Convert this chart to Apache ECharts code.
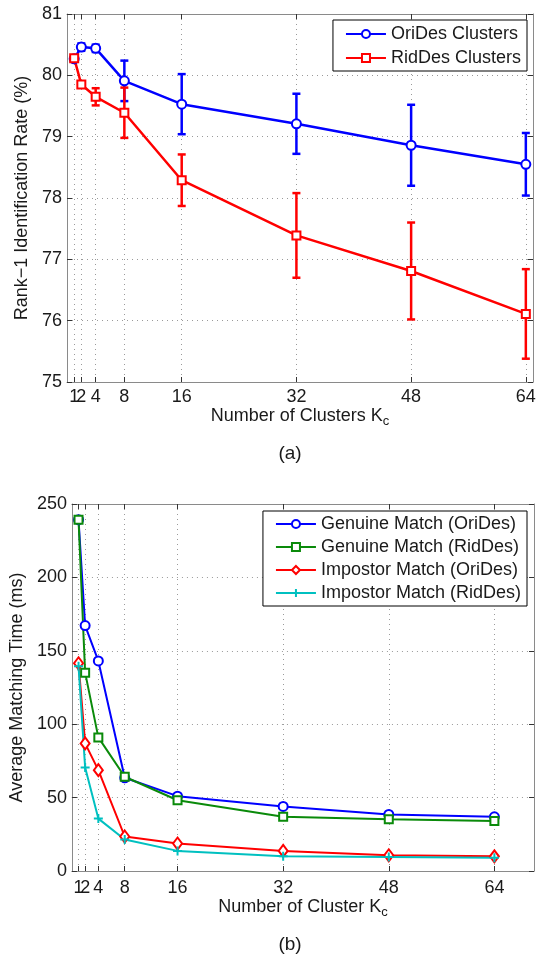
<!DOCTYPE html>
<html><head><meta charset="utf-8">
<script src="https://cdn.jsdelivr.net/npm/echarts@6/dist/echarts.min.js"></script>
<style>html,body{margin:0;padding:0;background:#fff}#c{width:550px;height:961px}</style>
</head><body><div id="c"></div>
<script>
const kValues = [1, 2, 4, 8, 16, 32, 48, 64];
const rateTicks = [75, 76, 77, 78, 79, 80, 81];
const timeTicks = [0, 50, 100, 150, 200, 250];

const oriRate = [80.27, 80.46, 80.44, 79.91, 79.53, 79.21, 78.86, 78.55];
const oriErr  = [0.03, 0.06, 0.06, 0.33, 0.49, 0.49, 0.66, 0.51];
const ridRate = [80.28, 79.85, 79.65, 79.39, 78.29, 77.39, 76.81, 76.11];
const ridErr  = [0.03, 0.04, 0.14, 0.41, 0.42, 0.69, 0.79, 0.73];

const genOri = [239.3, 167.2, 143.1, 63.5, 51.0, 44.0, 38.5, 36.9];
const genRid = [239.3, 135.1, 91.0, 64.2, 48.2, 36.9, 35.3, 34.1];
const impOri = [141.5, 86.9, 68.7, 23.5, 18.7, 13.7, 10.7, 10.0];
const impRid = [139.5, 70.5, 35.7, 21.4, 13.7, 10.0, 9.6, 9.1];

const FONT = "'Liberation Sans', Arial, sans-serif";
const TXT = '#1a1a1a';
const AXC = '#8a8a8a';

function pairs(xs, ys) { return xs.map((x, i) => [x, ys[i]]); }
function errData(xs, ys, es) { return xs.map((x, i) => [x, ys[i] - es[i], ys[i] + es[i]]); }

function errSeries(name, data, color) {
  return {
    type: 'custom', name: name + ' err', xAxisIndex: 0, yAxisIndex: 0,
    data: data, silent: true, z: 2,
    renderItem: function (params, api) {
      const x = api.value(0);
      const lo = api.coord([x, api.value(1)]);
      const hi = api.coord([x, api.value(2)]);
      const w = 4;
      const st = { stroke: color, lineWidth: 2.5 };
      return { type: 'group', children: [
        { type: 'line', shape: { x1: lo[0], y1: lo[1], x2: hi[0], y2: hi[1] }, style: st },
        { type: 'line', shape: { x1: lo[0] - w, y1: lo[1], x2: lo[0] + w, y2: lo[1] }, style: st },
        { type: 'line', shape: { x1: hi[0] - w, y1: hi[1], x2: hi[0] + w, y2: hi[1] }, style: st }
      ]};
    }
  };
}

// label sets: the first K label overlaps its neighbour, so it is drawn by its own overlay axis
const kFirst = kValues.slice(0, 1);
const kRest = kValues.slice(1);

function xAxes(grid, max, name, nameGap, labelMargin) {
  const common = { type: 'value', gridIndex: grid, min: 0, max: max };
  const lbl = { show: true, margin: labelMargin, fontFamily: FONT, fontSize: 18, color: TXT,
    hideOverlap: false, showMinLabel: true, showMaxLabel: true };
  return [
    Object.assign({}, common, {
      position: 'bottom',
      name: name, nameLocation: 'middle', nameGap: nameGap,
      nameTextStyle: { fontFamily: FONT, fontSize: 18, color: TXT,
        rich: { sub: { fontFamily: FONT, fontSize: 13, color: TXT, padding: [12, 0, 0, 0] } } },
      axisLine: { show: true, onZero: false, lineStyle: { color: AXC, width: 1 } },
      axisTick: { show: true, inside: true, length: 5, customValues: kValues, lineStyle: { color: '#333' } },
      axisLabel: Object.assign({}, lbl, { customValues: kRest }),
      splitLine: { show: true, lineStyle: { color: '#9a9a9a', type: [1, 4], width: 1 } }
    }),
    Object.assign({}, common, {
      position: 'top',
      axisLine: { show: true, onZero: false, lineStyle: { color: AXC, width: 1 } },
      axisTick: { show: true, inside: true, length: 5, customValues: kValues, lineStyle: { color: '#333' } },
      axisLabel: { show: false },
      splitLine: { show: false }
    }),
    Object.assign({}, common, {
      position: 'bottom',
      axisLine: { show: false, onZero: false },
      axisTick: { show: false, customValues: kFirst },
      axisLabel: Object.assign({}, lbl, { customValues: kFirst }),
      splitLine: { show: false }
    })
  ];
}

function yAxes(grid, min, max, interval, name, nameGap) {
  const common = { type: 'value', gridIndex: grid, min: min, max: max, interval: interval };
  return [
    Object.assign({}, common, {
      position: 'left',
      name: name, nameLocation: 'middle', nameGap: nameGap,
      nameTextStyle: { fontFamily: FONT, fontSize: 18, color: TXT },
      axisLine: { show: true, onZero: false, lineStyle: { color: AXC, width: 1 } },
      axisTick: { show: true, inside: true, length: 5, lineStyle: { color: '#333' } },
      axisLabel: { show: true, margin: 5, fontFamily: FONT, fontSize: 18, color: TXT },
      splitLine: { show: true, lineStyle: { color: '#9a9a9a', type: [1, 4], width: 1 } }
    }),
    Object.assign({}, common, {
      position: 'right',
      axisLine: { show: true, onZero: false, lineStyle: { color: AXC, width: 1 } },
      axisTick: { show: true, inside: true, length: 5, lineStyle: { color: '#333' } },
      axisLabel: { show: false },
      splitLine: { show: false }
    })
  ];
}

const plusPath = 'path://M5,0 L5,10 M0,5 L10,5';

function lineSeries(name, xIdx, yIdx, data, color, symbol, size, width) {
  return {
    type: 'line', name: name, xAxisIndex: xIdx, yAxisIndex: yIdx,
    data: data, symbol: symbol, symbolSize: size, showSymbol: true,
    lineStyle: { color: color, width: width },
    itemStyle: { color: color, borderColor: color, borderWidth: 2 },
    animation: false, z: 3
  };
}

const chart = echarts.init(document.getElementById('c'), null, { renderer: 'canvas' });
const option = {
  animation: false,
  backgroundColor: '#fff',
  grid: [
    { left: 67, top: 14, right: 17, height: 368 },
    { left: 67, top: 504, right: 16, height: 367 }
  ],
  xAxis: [].concat(
    xAxes(0, 65, 'Number of Clusters K{sub|c}', 19, 6),
    xAxes(1, 70, 'Number of Cluster K{sub|c}', 21, 8)
  ),
  yAxis: [].concat(
    yAxes(0, rateTicks[0], rateTicks[rateTicks.length - 1], 1, 'Rank\u22121 Identification Rate (%)', 32),
    yAxes(1, timeTicks[0], timeTicks[timeTicks.length - 1], 50, 'Average Matching Time (ms)', 44)
  ),
  legend: [
    {
      data: ['OriDes Clusters', 'RidDes Clusters'],
      orient: 'vertical', right: 23, top: 20,
      itemWidth: 40, itemHeight: 10, itemGap: 6,
      padding: [5, 6, 4, 12],
      borderColor: '#000', borderWidth: 1, backgroundColor: '#fff',
      textStyle: { fontFamily: FONT, fontSize: 18, color: TXT }
    },
    {
      data: ['Genuine Match (OriDes)', 'Genuine Match (RidDes)', 'Impostor Match (OriDes)', 'Impostor Match (RidDes)'],
      orient: 'vertical', right: 23, top: 511,
      itemWidth: 40, itemHeight: 10, itemGap: 5,
      padding: [4, 6, 4, 12],
      borderColor: '#000', borderWidth: 1, backgroundColor: '#fff',
      textStyle: { fontFamily: FONT, fontSize: 18, color: TXT }
    }
  ],
  graphic: [
    { type: 'text', x: 290, y: 454, style: { text: '(a)', fontFamily: FONT, fontSize: 19, fill: TXT, align: 'center', verticalAlign: 'middle' } },
    { type: 'text', x: 290, y: 945, style: { text: '(b)', fontFamily: FONT, fontSize: 19, fill: TXT, align: 'center', verticalAlign: 'middle' } }
  ],
  series: [
    lineSeries('OriDes Clusters', 0, 0, pairs(kValues, oriRate), '#0000ff', 'emptyCircle', 9, 2.5),
    errSeries('OriDes Clusters', errData(kValues, oriRate, oriErr), '#0000ff'),
    lineSeries('RidDes Clusters', 0, 0, pairs(kValues, ridRate), '#ff0000', 'emptyRect', 8, 2.5),
    errSeries('RidDes Clusters', errData(kValues, ridRate, ridErr), '#ff0000'),
    lineSeries('Genuine Match (OriDes)', 3, 2, pairs(kValues, genOri), '#0000ff', 'emptyCircle', 9, 2),
    lineSeries('Genuine Match (RidDes)', 3, 2, pairs(kValues, genRid), '#0a8a0a', 'emptyRect', 8, 2),
    lineSeries('Impostor Match (OriDes)', 3, 2, pairs(kValues, impOri), '#ff0000', 'emptyDiamond', [9, 12], 2),
    lineSeries('Impostor Match (RidDes)', 3, 2, pairs(kValues, impRid), '#00c0c0', plusPath, 9, 2)
  ]
};
chart.setOption(option);
</script>
</body></html>
